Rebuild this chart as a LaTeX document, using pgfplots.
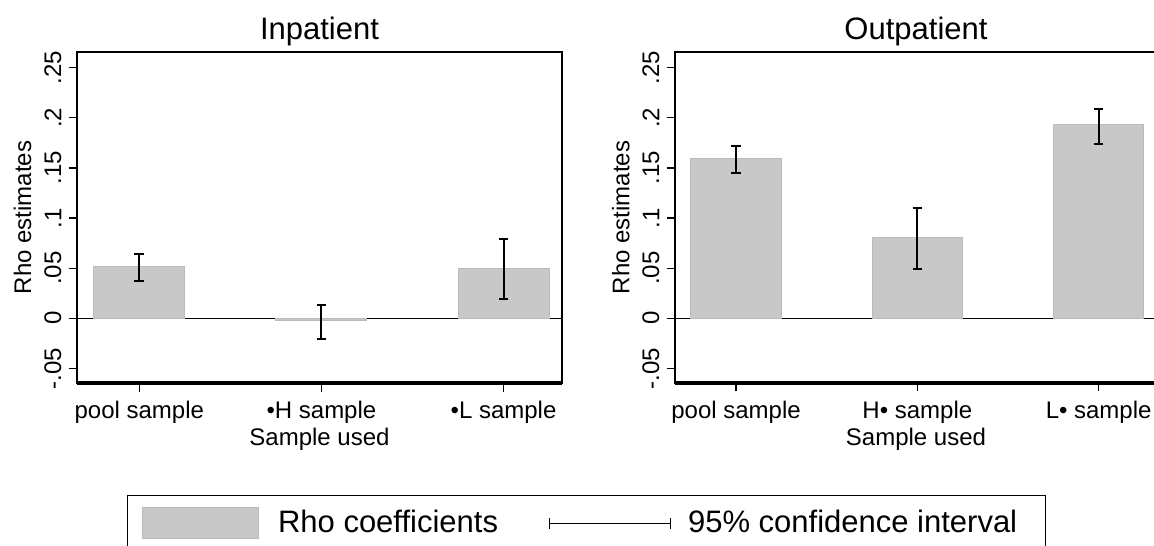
\documentclass[border=0pt]{standalone}
\usepackage{fontspec}
\setmainfont{Liberation Sans}
\usepackage{pgfplots}
\pgfplotsset{compat=1.18}
\usepackage{pgfplotstable}

\definecolor{barfill}{RGB}{200,200,200}
\definecolor{baredge}{RGB}{186,186,186}

% Rho estimates with 95% confidence bounds
\pgfplotstableread{
x y lo hi
0 0.0512 0.0372 0.0639
1 -0.0027 -0.0207 0.0133
2 0.0495 0.0190 0.0788
}\inpatient
\pgfplotstableread{
x y lo hi
0 0.1590 0.1453 0.1720
1 0.0808 0.0489 0.1104
2 0.1930 0.1736 0.2092
}\outpatient

\newcommand{\ticksize}{\fontsize{12}{14.4}\selectfont}
\newcommand{\bigsize}{\fontsize{15.5}{18.6}\selectfont}

\pgfplotsset{
  panel/.style={
    scale only axis, height=165.5pt,
    ymin=-0.0646, ymax=0.2657,
    ytick={-0.05,0,0.05,0.1,0.15,0.2,0.25},
    yticklabels={-.05,0,.05,.1,.15,.2,.25},
    xtick={0,1,2},
    tick align=outside, xtick pos=left, ytick pos=left,
    major tick length=4.25pt,
    tick style={black, line width=0.65pt},
    axis line style={line width=0.65pt},
    yticklabel style={rotate=90, anchor=south, font=\ticksize},
    xticklabel style={anchor=north, yshift=-1.5pt, font=\ticksize},
    every axis title shift=0pt,
    title style={at={(axis description cs:0.5,1.0363)}, anchor=base, font=\bigsize},
    xlabel={Sample used}, ylabel={Rho estimates},
    xlabel style={at={(axis description cs:0.5,-0.1903)}, anchor=base, font=\ticksize},
    ylabel style={at={(axis description cs:-0.0948,0.5)}, anchor=base, font=\ticksize},
    extra y ticks={0}, extra y tick labels={},
    extra y tick style={grid=major, major grid style={black, line width=0.6pt}},
    after end axis/.code={\draw[line width=1.8pt] (rel axis cs:0,0) -- (rel axis cs:1,0);},
  },
  rhobars/.style={ybar, bar width=0.5, fill=barfill, draw=baredge, line width=0.5pt,
    legend image code/.code={\draw[fill=barfill, draw=baredge, line width=0.5pt] (0pt,-7.65pt) rectangle (57.8pt,7.65pt);}},
  cibars/.style={draw=none, mark=none,
    legend image code/.code={\draw[black, solid, line width=0.5pt] (0pt,0pt) -- (60.5pt,0pt) (0pt,-2.75pt) -- (0pt,2.75pt) (60.5pt,-2.75pt) -- (60.5pt,2.75pt);},
    error bars/.cd, y dir=both, y explicit,
    error bar style={draw=black, solid, line width=1pt},
    error mark options={rotate=90, draw=black, solid, mark size=2.4pt, line width=1pt}},
}

\begin{document}
\begin{tikzpicture}
\useasboundingbox (0,0) rectangle (577pt,272.5pt);
\clip (0,0) rectangle (577pt,272.5pt);

\begin{axis}[panel, at={(38.5pt,81pt)}, anchor=south west,
  width=242.5pt, xmin=-0.342, xmax=2.321,
  xticklabels={pool sample, •H sample, •L sample},
  title={Inpatient},
  legend columns=2,
  legend cell align=left,
  legend style={at={(0.1031,-0.3369)}, anchor=north west, draw=black, line width=0.65pt,
    inner xsep=7.2pt, inner ysep=6.1pt, font=\bigsize, nodes={inner sep=0pt},
    /tikz/column 1/.style={column sep=9.7pt},
    /tikz/column 2/.style={column sep=25.5pt},
    /tikz/column 3/.style={column sep=8.5pt}},
]
\addplot[rhobars] table[x=x, y=y] {\inpatient};
\addlegendentry{Rho coefficients}
\addplot[cibars] table[x=x, y=y,
  y error plus expr=\thisrow{hi}-\thisrow{y},
  y error minus expr=\thisrow{y}-\thisrow{lo}] {\inpatient};
\addlegendentry{95\% confidence interval\hspace*{6.8pt}}
\end{axis}

\begin{axis}[panel, at={(337.5pt,81pt)}, anchor=south west,
  width=241pt, xmin=-0.337, xmax=2.322,
  xticklabels={pool sample, H• sample, L• sample},
  title={Outpatient},
]
\addplot[rhobars] table[x=x, y=y] {\outpatient};
\addplot[cibars] table[x=x, y=y,
  y error plus expr=\thisrow{hi}-\thisrow{y},
  y error minus expr=\thisrow{y}-\thisrow{lo}] {\outpatient};
\end{axis}
\end{tikzpicture}
\end{document}
